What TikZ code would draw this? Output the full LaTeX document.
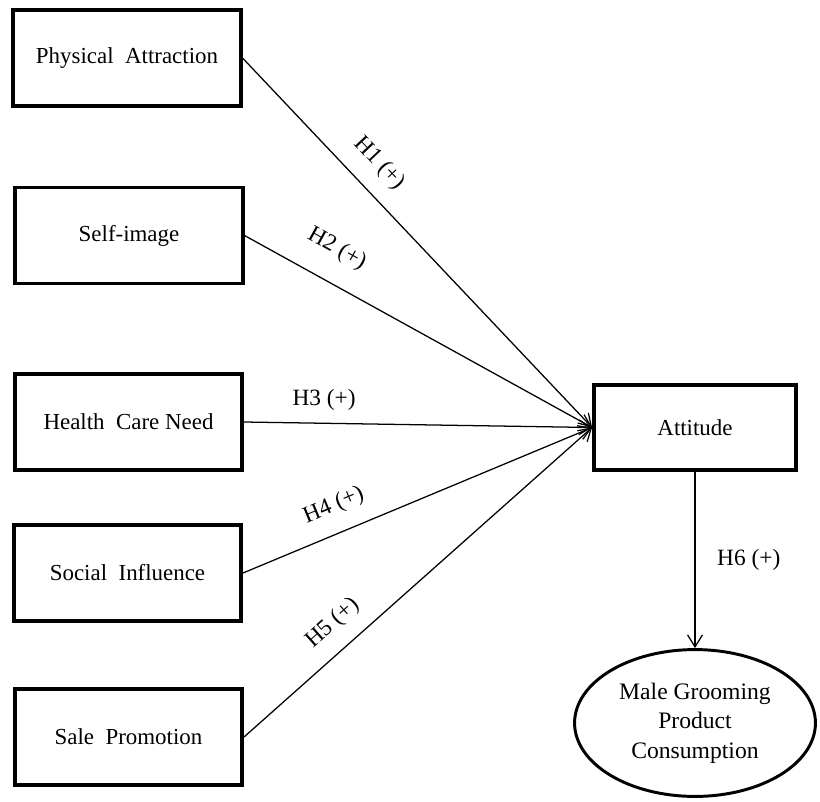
\documentclass[tikz,border=0pt]{standalone}
\usepackage{fontspec}
\setmainfont{Liberation Serif}
\usetikzlibrary{arrows.meta,shapes.geometric}
\begin{document}
\begin{tikzpicture}[x=0.025cm, y=-0.025cm,
    factor/.style={draw, line width=2.7pt, minimum width=5.68cm, minimum height=2.4cm,
      font=\fontsize{16.3}{19}\selectfont},
    hyp/.style={draw, line width=0.9pt, -{Straight Barb[length=8.5pt,width=10.5pt]}},
    hlabel/.style={font=\fontsize{16.6}{19}\selectfont}]
  \useasboundingbox (0,0) rectangle (820,801);
  \node [factor] (phys) at (127,58) {Physical\ \ Attraction};
  \node [factor] (self) at (129,235.5) {Self-image};
  \node [factor] (health) at (128.5,422) {Health\ \ Care Need};
  \node [factor] (social) at (127.5,573) {Social\ \ Influence};
  \node [factor] (sale) at (128.5,737) {Sale\ \ Promotion};
  \node [factor, minimum width=5.05cm, minimum height=2.12cm] (att) at (695,427.5) {Attitude};
  \node [ellipse, draw, line width=2.1pt, minimum width=6.02cm, minimum height=3.67cm,
    align=center, font=\fontsize{16.8}{21}\selectfont] (cons) at (695,723)
    {Male Grooming\\Product\\Consumption};
  \draw [hyp] (phys.east) -- node [hlabel, sloped, above=8pt, pos=0.335] {H1 (+)} (att.west);
  \draw [hyp] (self.east) -- node [hlabel, sloped, above=12pt, pos=0.22] {H2 (+)} (att.west);
  \draw [hyp] (health.east) -- node [hlabel, above=5pt, pos=0.23] {H3 (+)} (att.west);
  \draw [hyp] (social.east) -- node [hlabel, sloped, above=8pt, pos=0.29] {H4 (+)} (att.west);
  \draw [hyp] (sale.east) -- node [hlabel, sloped, above=7pt, pos=0.305] {H5 (+)} (att.west);
  \draw [hyp] (att.south) -- node [hlabel, right=12pt] {H6 (+)} (cons.north);
\end{tikzpicture}
\end{document}
